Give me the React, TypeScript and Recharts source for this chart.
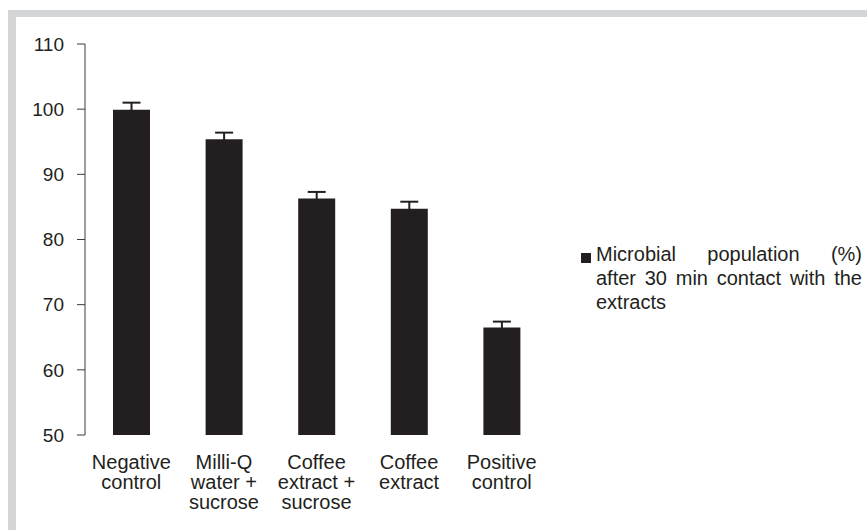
import React from 'react';
import { BarChart, Bar, XAxis, YAxis, ErrorBar, Legend } from 'recharts';

const categories = ['Negative\ncontrol', 'Milli-Q\nwater +\nsucrose', 'Coffee\nextract +\nsucrose', 'Coffee\nextract', 'Positive\ncontrol'];
const values = [99.9, 95.4, 86.3, 84.7, 66.5];
const errors = [1.1, 1.0, 1.0, 1.1, 0.9];
const yTicks = [50, 60, 70, 80, 90, 100, 110];
const boundaryTicks = [0, 1, 2, 3, 4, 5];
const legendLines = ['Microbial population (%)', 'after 30 min contact with the', 'extracts'];

const data = categories.map((c, i) => ({ name: c, value: values[i], err: errors[i] }));

const FONT = '"Liberation Sans", Arial, sans-serif';
const INK = '#231f20';
const AXIS = '#3a3a3a';

const CatTick = (props: any) => {
  const { x, y, payload } = props;
  const lines = String(payload.value).split('\n');
  return (
    <text x={x} y={y + 34} textAnchor="middle" fontFamily={FONT} fontSize={20} fill={INK}>
      {lines.map((l, i) => (
        <tspan key={i} x={x} dy={i === 0 ? 0 : 20}>{l}</tspan>
      ))}
    </text>
  );
};

const LegendContent = () => (
  <div style={{ position: 'relative', width: 284, fontFamily: FONT, fontSize: 20, color: INK, lineHeight: '24px' }}>
    <div style={{ position: 'absolute', left: 3, top: 11, width: 10, height: 10, background: INK }} />
    {legendLines.map((l, i) => (
      <div
        key={i}
        style={{
          paddingLeft: 18,
          textAlign: i < legendLines.length - 1 ? 'justify' : 'left',
          textAlignLast: i < legendLines.length - 1 ? 'justify' : 'left',
          whiteSpace: 'nowrap',
        } as any}
      >
        {l}
      </div>
    ))}
  </div>
);

export default function App() {
  return (
    <div style={{ position: 'absolute', left: 0, top: 0, width: 867, height: 530, background: '#fff' }}>
      <div
        style={{
          position: 'absolute',
          left: 8,
          top: 10,
          width: 859,
          height: 520,
          boxSizing: 'border-box',
          borderTop: '7px solid #d4d5d6',
          borderLeft: '8px solid #d4d5d6',
        }}
      />
      <div style={{ position: 'absolute', left: 0, top: 0 }}>
        <BarChart width={867} height={530} data={data} margin={{ top: 44, right: 29, bottom: 0, left: 0 }}>
          <XAxis
            xAxisId="a_grid"
            type="number"
            domain={[0, 5]}
            ticks={boundaryTicks}
            allowDataOverflow
            height={0}
            tickSize={6}
            tickFormatter={() => ''}
            stroke={AXIS}
            axisLine={{ stroke: AXIS }}
            tickLine={{ stroke: AXIS }}
          />
          <XAxis
            xAxisId="b_cat"
            dataKey="name"
            height={95}
            axisLine={false}
            tickLine={false}
            tickSize={0}
            tickMargin={0}
            interval={0}
            tick={<CatTick />}
          />
          <YAxis
            domain={[50, 110]}
            ticks={yTicks}
            width={85}
            tickSize={8}
            tickMargin={13}
            stroke={AXIS}
            tick={{ fontFamily: FONT, fontSize: 19, fill: INK }}
            allowDataOverflow
          />
          <Legend
            layout="horizontal"
            verticalAlign="middle"
            align="right"
            content={<LegendContent />}
            wrapperStyle={{ left: 578, top: 242, right: 'auto', width: 290 }}
          />
          <Bar xAxisId="b_cat" dataKey="value" fill={INK} barSize={37} isAnimationActive={false} name="Microbial population (%) after 30 min contact with the extracts">
            <ErrorBar dataKey="err" direction="y" width={9} stroke={INK} strokeWidth={2} />
          </Bar>
        </BarChart>
      </div>
    </div>
  );
}
